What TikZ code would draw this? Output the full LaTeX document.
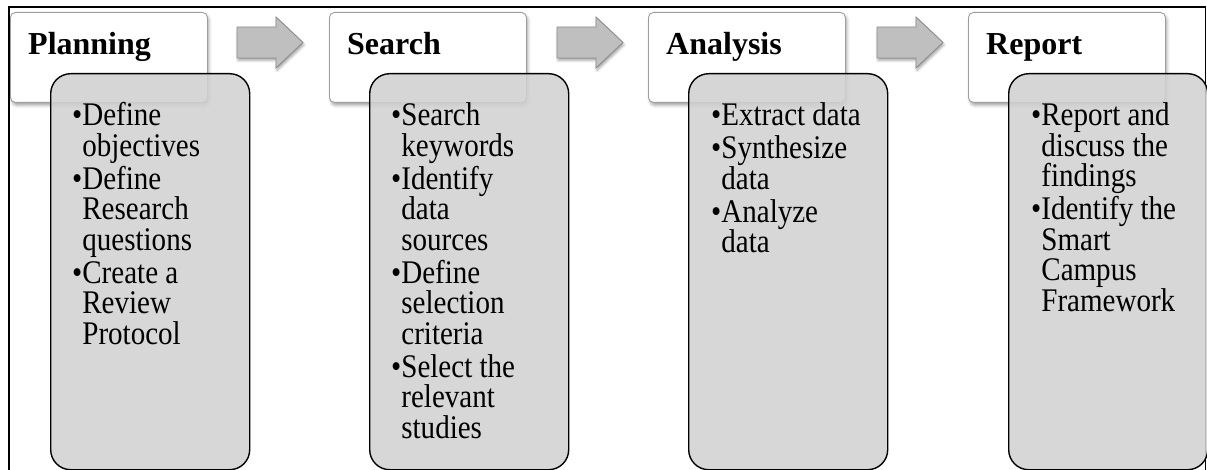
\documentclass[tikz,border=0pt]{standalone}
\usepackage{fontspec}
\setmainfont{Liberation Serif}
\newfontfamily\listfont[FakeStretch=0.88]{Liberation Serif}
\usetikzlibrary{shadows.blur}

\newlength\bulw
% one bulleted entry with a hanging indent under the bullet
\newcommand\bitem[1]{\par\hangindent=\bulw\hangafter=1\noindent\textbullet#1}
% a column of bulleted entries, first baseline on the node's base;
% \\ breaks the line but keeps the paragraph, so the hanging indent holds
\newenvironment{bullets}{%
  \begin{minipage}[t]{175pt}\raggedright
  \listfont\fontsize{33}{30.5}\selectfont
  \setlength{\parskip}{2.5pt}\settowidth{\bulw}{\textbullet}%
  \def\\{\hfil\break}}%
  {\end{minipage}}

\begin{document}
\begin{tikzpicture}[x=1pt,y=-1pt,
  headbox/.style={draw=black!38, line width=0.9pt, fill=white, rounded corners=5pt,
    minimum width=197pt, minimum height=90pt, anchor=north west, inner sep=0pt,
    blur shadow={shadow xshift=1.5pt, shadow yshift=-3pt, shadow blur radius=3pt, shadow opacity=35}},
  headtxt/.style={font=\fontsize{32}{36}\selectfont\bfseries, anchor=base west, inner sep=0pt},
  listbox/.style={draw=black, line width=1.4pt, fill=black!18, fill opacity=0.88,
    rounded corners=20pt, minimum width=199pt, minimum height=396pt,
    anchor=north west, inner sep=0pt},
  listtxt/.style={anchor=base west, inner sep=0pt},
  arrowlook/.style={draw=black!45, line width=0.9pt, fill=black!25,
    blur shadow={shadow xshift=1pt, shadow yshift=-2.5pt, shadow blur radius=2.5pt, shadow opacity=35}},
  blockarrow/.pic={\path[arrowlook] (0,-15.5) -- (39,-15.5) -- (39,-25.5) -- (66,0)
    -- (39,25.5) -- (39,15.5) -- (0,15.5) -- cycle;}
]
\useasboundingbox (0,0) rectangle (1207,470);
\clip (0,0) rectangle (1207,470);

% outer frame
\draw[line width=1.3pt] (9,480) -- (9,7) -- (1205.5,7) -- (1205.5,480);

% stage 1: planning
\node[headbox] (hplan) at (10,12) {};
\node[headtxt] (tplan) at (28,55) {Planning};
\node[listbox] (bplan) at (50,73) {};
\node[listtxt] (lplan) at (72,126) {\begin{bullets}
  \bitem{Define\\objectives}
  \bitem{Define\\Research\\questions}
  \bitem{Create a\\Review\\Protocol}\end{bullets}};

% stage 2: search
\node[headbox] (hsearch) at (329,12) {};
\node[headtxt] (tsearch) at (347,55) {Search};
\node[listbox] (bsearch) at (369,73) {};
\node[listtxt] (lsearch) at (391,126) {\begin{bullets}
  \bitem{Search\\keywords}
  \bitem{Identify\\data\\sources}
  \bitem{Define\\selection\\criteria}
  \bitem{Select the\\relevant\\studies}\end{bullets}};

% stage 3: analysis
\node[headbox] (hana) at (648,12) {};
\node[headtxt] (tana) at (666,55) {Analysis};
\node[listbox] (bana) at (688,73) {};
\node[listtxt] (lana) at (711,126) {\begin{bullets}
  \bitem{Extract data}
  \bitem{Synthesize\\data}
  \bitem{Analyze\\data}\end{bullets}};

% stage 4: report
\node[headbox] (hrep) at (968,12) {};
\node[headtxt] (trep) at (986,55) {Report};
\node[listbox] (brep) at (1008,73) {};
\node[listtxt] (lrep) at (1031,126) {\begin{bullets}
  \bitem{Report and\\discuss the\\findings}
  \bitem{Identify the\\Smart\\Campus\\Framework}\end{bullets}};

% block arrows between the stages
\pic (arr1) at (237,42.5) {blockarrow};
\pic (arr2) at (557,42.5) {blockarrow};
\pic (arr3) at (877,42.5) {blockarrow};
\end{tikzpicture}
\end{document}
